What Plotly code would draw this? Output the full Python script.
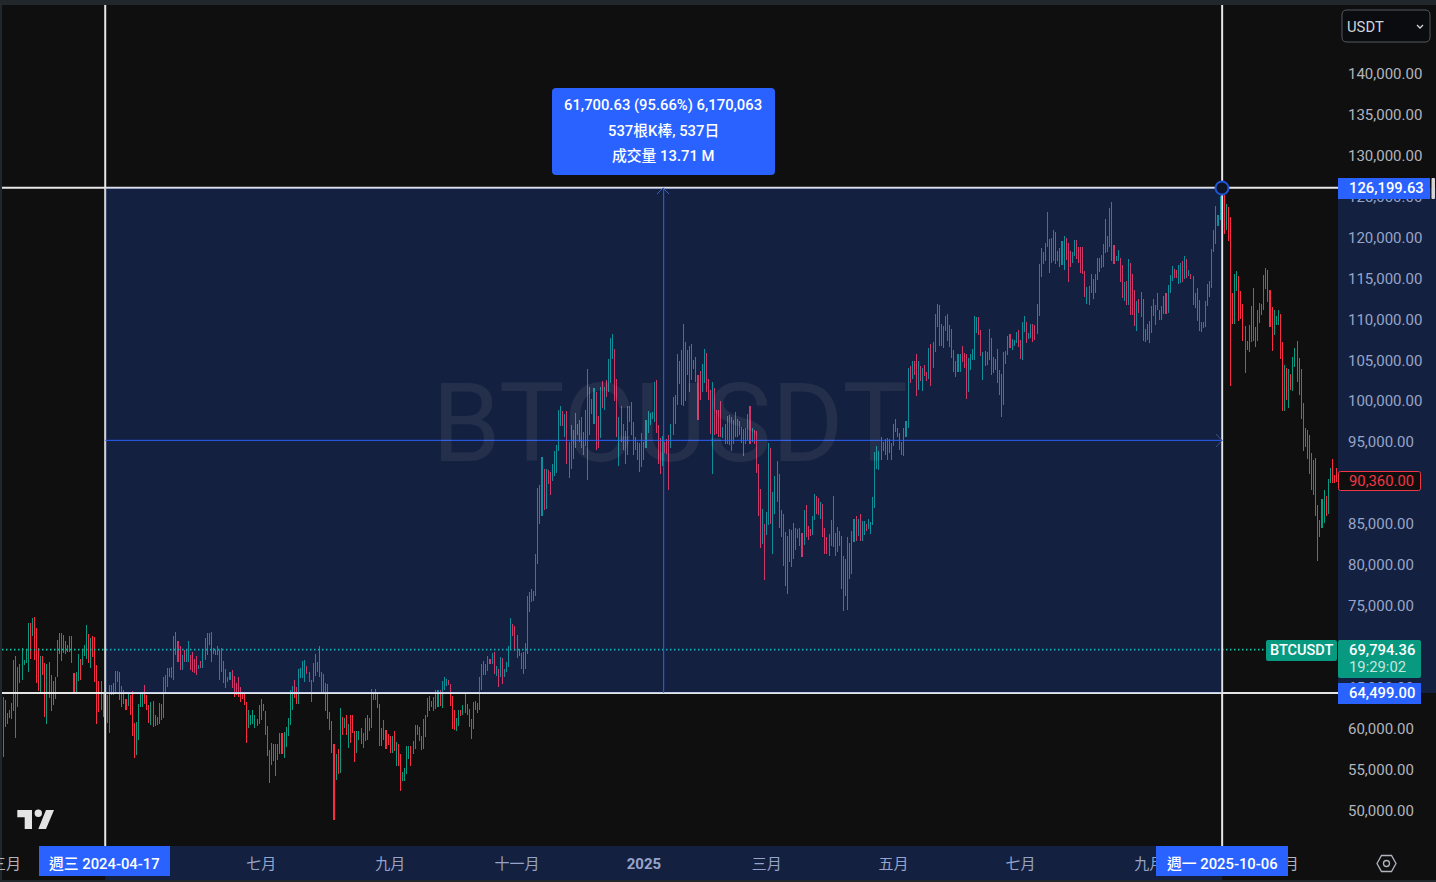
import pandas as pd
import plotly.graph_objects as go

# daily high / low of each bar in thousands of USDT, and 1 when the bar closed up
highs = [
    64.05, 63.64, 62.0, 62.4, 63.3, 68.5, 69.0, 67.7, 68.0, 70.0,
    68.5, 69.7, 73.0, 73.1, 73.6, 73.8, 72.4, 70.0, 69.0, 69.0,
    68.1, 68.0, 68.3, 66.7, 66.0, 66.5, 71.0, 71.8, 71.8, 71.6,
    70.8, 70.4, 71.4, 71.4, 66.9, 67.0, 69.3, 68.7, 69.7, 70.4,
    72.8, 71.7, 71.2, 71.4, 71.3, 67.9, 65.9, 65.9, 64.5, 64.5,
    64.2, 65.5, 65.5, 65.7, 67.2, 67.2, 67.1, 65.3, 64.8, 63.8,
    64.5, 64.2, 64.7, 60.8, 61.0, 63.2, 64.5, 64.5, 65.5, 64.2,
    63.0, 63.4, 63.5, 61.8, 61.6, 63.3, 63.1, 66.5, 66.7, 67.5,
    67.5, 67.7, 71.5, 72.0, 70.8, 70.2, 69.1, 69.7, 69.7, 70.8,
    69.1, 69.5, 68.7, 69.0, 67.9, 68.4, 69.8, 71.2, 71.8, 71.8,
    71.9, 70.0, 69.8, 70.2, 69.8, 70.0, 68.4, 67.4, 66.5, 67.0,
    67.3, 66.6, 65.7, 66.4, 65.2, 64.5, 64.5, 63.4, 62.4, 61.8,
    62.4, 61.8, 61.3, 63.0, 63.8, 63.2, 62.3, 60.5, 57.5, 58.4,
    58.3, 58.3, 58.3, 59.6, 59.6, 59.7, 60.4, 61.5, 64.9, 65.3,
    66.1, 65.2, 67.4, 67.5, 68.4, 68.5, 67.8, 67.1, 66.1, 68.2,
    69.3, 68.3, 70.2, 67.1, 66.8, 65.7, 65.6, 62.2, 61.1, 58.3,
    57.0, 57.7, 62.7, 61.6, 61.4, 61.8, 60.7, 61.8, 61.8, 59.9,
    59.9, 59.8, 60.2, 59.6, 61.4, 61.8, 61.4, 65.0, 64.4, 65.0,
    64.5, 63.2, 60.2, 61.2, 60.0, 59.5, 59.2, 59.3, 59.9, 58.5,
    58.3, 57.1, 54.9, 55.3, 58.0, 58.0, 58.0, 58.6, 60.6, 60.6,
    60.3, 59.3, 61.3, 61.8, 63.9, 64.1, 63.5, 64.0, 64.8, 64.8,
    64.9, 65.9, 66.4, 66.2, 66.1, 65.6, 64.1, 62.4, 61.5, 62.4,
    62.4, 63.0, 64.5, 63.2, 62.6, 61.3, 63.4, 63.5, 63.3, 66.5,
    68.0, 68.4, 68.0, 69.0, 68.7, 69.4, 69.5, 67.8, 67.4, 68.9,
    68.8, 67.4, 68.3, 70.2, 73.7, 72.9, 72.7, 71.6, 69.9, 69.4,
    69.5, 70.6, 76.3, 76.8, 77.2, 76.9, 81.5, 89.5, 89.9, 93.3,
    91.8, 91.8, 91.7, 91.5, 92.5, 94.0, 94.8, 99.1, 99.5, 98.9,
    98.6, 98.9, 95.1, 97.2, 96.6, 98.7, 97.4, 97.8, 98.2, 96.4,
    99.1, 104.0, 101.9, 100.4, 101.7, 101.3, 98.3, 101.9, 102.6, 101.9,
    102.7, 105.3, 107.8, 108.3, 106.5, 102.8, 98.2, 99.5, 97.4, 96.5,
    99.5, 99.5, 100.0, 97.6, 95.8, 95.2, 95.0, 96.2, 95.2, 97.8,
    98.9, 98.7, 98.8, 102.5, 102.7, 97.2, 95.6, 95.9, 95.2, 95.5,
    96.0, 97.3, 100.6, 100.9, 105.9, 105.0, 106.4, 109.5, 107.3, 106.4,
    106.9, 107.1, 105.2, 105.5, 103.3, 103.8, 104.7, 106.5, 106.0, 102.8,
    101.5, 102.5, 101.7, 99.1, 99.1, 100.1, 97.0, 97.3, 98.3, 98.4,
    98.2, 97.8, 98.8, 98.0, 97.7, 97.0, 96.7, 96.8, 98.6, 99.5,
    96.9, 96.6, 96.5, 92.5, 89.4, 87.0, 85.1, 86.6, 95.0, 94.4,
    89.0, 91.0, 92.8, 91.2, 86.8, 86.4, 84.1, 83.7, 84.5, 84.4,
    85.2, 84.7, 84.5, 84.7, 84.0, 86.9, 87.4, 84.9, 84.5, 86.1,
    88.8, 88.5, 88.3, 87.8, 87.6, 84.6, 83.6, 83.9, 85.6, 88.5,
    84.0, 84.8, 84.3, 83.7, 81.2, 80.8, 83.5, 82.8, 84.3, 85.8,
    86.1, 85.8, 86.4, 85.5, 85.5, 85.1, 85.7, 85.4, 88.4, 93.9,
    94.7, 94.1, 95.7, 95.2, 95.5, 95.6, 95.5, 95.0, 97.4, 97.9,
    96.9, 96.3, 95.2, 96.9, 97.7, 104.2, 104.4, 105.0, 105.0, 105.9,
    105.0, 104.4, 104.2, 104.5, 103.7, 106.6, 107.1, 107.4, 110.8, 112.0,
    111.9, 109.6, 109.3, 110.5, 110.8, 109.4, 108.9, 106.4, 105.0, 105.9,
    105.9, 106.9, 106.0, 105.9, 105.4, 105.9, 106.5, 110.5, 110.4, 110.4,
    108.8, 106.1, 106.3, 106.1, 108.9, 107.8, 105.5, 105.3, 106.5, 103.9,
    103.4, 106.1, 106.3, 108.1, 108.3, 107.7, 107.6, 108.6, 108.8, 107.6,
    109.8, 110.5, 109.8, 108.4, 109.6, 109.6, 109.4, 112.0, 116.9, 118.8,
    118.3, 119.5, 123.2, 119.9, 120.0, 121.0, 120.8, 118.5, 118.8, 119.7,
    120.3, 120.1, 119.4, 118.5, 118.4, 119.8, 119.8, 119.0, 118.9, 118.9,
    116.0, 114.1, 114.2, 115.7, 115.1, 115.7, 117.6, 117.6, 118.0, 119.3,
    122.4, 120.3, 123.7, 124.4, 119.2, 117.9, 118.6, 117.6, 116.8, 114.7,
    114.8, 117.5, 117.0, 115.7, 113.7, 112.4, 112.6, 113.5, 112.6, 108.9,
    109.6, 109.9, 111.8, 112.6, 111.9, 113.3, 111.3, 111.7, 113.0, 113.3,
    114.3, 115.5, 116.6, 116.3, 116.1, 116.8, 117.0, 117.2, 117.9, 117.5,
    116.1, 115.7, 115.4, 113.3, 113.9, 112.5, 109.8, 109.8, 112.4, 114.4,
    114.8, 118.7, 121.0, 124.0, 122.9, 125.2, 126.2, 125.3, 124.2, 123.8,
    122.6, 113.3, 115.7, 116.0, 115.4, 113.6, 112.0, 109.3, 107.5, 109.4,
    111.8, 114.0, 109.2, 111.3, 112.1, 112.0, 115.5, 116.4, 116.1, 113.7,
    111.6, 111.3, 110.5, 111.3, 110.8, 107.4, 104.5, 104.2, 104.1, 103.5,
    105.5, 106.6, 107.5, 105.4, 104.1, 99.9, 96.9, 96.6, 96.0, 93.8,
    93.0, 93.2, 87.4, 85.6, 88.2, 89.3, 88.6, 90.6, 92.0, 93.1, 91.1, 92.0,
]
lows = [
    56.72, 60.38, 60.7, 61.5, 61.3, 62.3, 59.0, 62.8, 65.7, 66.1,
    67.9, 68.1, 67.1, 68.6, 71.4, 68.5, 65.7, 64.7, 64.5, 66.7,
    61.6, 60.7, 63.9, 62.3, 63.0, 63.8, 66.4, 69.3, 68.4, 69.4,
    69.3, 69.5, 69.5, 68.1, 64.5, 64.5, 65.9, 66.1, 67.9, 69.0,
    68.7, 68.1, 67.5, 68.9, 65.8, 60.7, 62.2, 62.4, 61.6, 59.6,
    60.8, 59.6, 64.2, 64.2, 64.5, 65.8, 63.6, 62.8, 63.2, 62.4,
    62.9, 61.8, 59.2, 56.6, 56.9, 58.8, 62.8, 62.8, 63.2, 62.4,
    60.8, 60.6, 60.3, 60.5, 60.6, 60.7, 61.2, 61.4, 64.6, 65.2,
    66.5, 66.3, 66.1, 69.1, 68.3, 67.3, 67.3, 68.3, 68.3, 68.3,
    67.3, 67.1, 66.9, 66.7, 67.4, 67.5, 67.5, 68.5, 69.1, 70.4,
    68.3, 69.3, 69.1, 69.1, 66.1, 67.0, 65.7, 65.1, 65.8, 66.1,
    65.1, 64.0, 64.2, 64.0, 63.4, 63.8, 63.0, 58.4, 60.2, 60.6,
    60.7, 60.2, 60.5, 60.7, 61.2, 62.3, 59.4, 56.8, 53.5, 55.7,
    56.2, 54.3, 56.3, 57.1, 57.0, 56.6, 57.9, 59.2, 60.6, 62.4,
    63.9, 63.2, 63.1, 66.3, 66.3, 65.8, 66.8, 65.8, 63.4, 65.8,
    66.6, 67.0, 66.4, 64.6, 64.5, 62.3, 61.3, 60.0, 57.2, 49.0,
    53.9, 54.6, 54.7, 59.4, 60.2, 59.4, 57.8, 58.4, 59.6, 56.1,
    57.2, 58.8, 58.3, 57.8, 58.6, 58.8, 59.8, 60.2, 63.6, 63.7,
    62.7, 58.0, 58.0, 58.8, 57.6, 58.2, 57.2, 57.2, 57.4, 55.6,
    55.6, 52.5, 53.7, 53.7, 54.6, 56.4, 55.6, 57.1, 57.6, 59.4,
    58.6, 57.5, 57.6, 59.1, 61.6, 62.3, 62.8, 62.3, 62.6, 62.8,
    62.9, 62.7, 64.9, 65.4, 65.5, 62.9, 60.1, 60.0, 59.9, 60.5,
    61.7, 61.8, 62.1, 61.8, 60.4, 58.9, 60.1, 62.4, 62.1, 62.4,
    64.8, 66.7, 66.7, 67.2, 68.0, 68.0, 66.8, 66.6, 65.2, 66.5,
    65.6, 66.5, 67.0, 67.7, 69.8, 71.5, 69.6, 68.8, 69.0, 67.4,
    66.8, 67.4, 69.3, 74.4, 75.6, 75.7, 76.4, 80.2, 85.1, 86.1,
    86.8, 87.0, 90.0, 88.7, 90.4, 91.0, 91.4, 94.0, 97.1, 97.1,
    95.7, 92.5, 90.8, 91.8, 93.1, 94.4, 96.0, 95.2, 94.4, 93.6,
    94.6, 90.5, 96.0, 98.6, 97.4, 94.2, 94.4, 95.6, 99.3, 99.1,
    100.7, 101.3, 102.3, 105.3, 100.1, 95.8, 92.2, 95.2, 94.2, 92.5,
    93.6, 97.6, 96.0, 93.6, 94.2, 93.0, 91.5, 92.1, 93.0, 94.4,
    96.2, 97.2, 97.9, 97.6, 96.2, 92.5, 91.2, 92.2, 93.8, 93.7,
    89.3, 94.4, 96.0, 97.3, 99.7, 102.2, 99.7, 99.5, 100.1, 103.3,
    101.3, 102.7, 104.0, 102.5, 97.8, 100.3, 101.3, 102.3, 101.3, 100.3,
    96.1, 91.2, 96.0, 96.1, 95.7, 95.8, 95.6, 94.9, 94.9, 94.8,
    94.1, 94.9, 95.8, 95.7, 96.0, 95.0, 93.4, 94.9, 95.4, 94.9,
    95.1, 94.9, 91.4, 86.1, 82.2, 82.7, 78.3, 83.8, 85.0, 85.1,
    81.5, 86.4, 87.8, 84.6, 83.5, 80.0, 77.5, 76.6, 80.5, 79.9,
    80.9, 82.0, 83.4, 82.4, 81.1, 82.6, 83.6, 83.2, 83.7, 83.8,
    85.6, 86.4, 86.2, 85.8, 83.5, 81.5, 81.5, 81.2, 82.4, 82.3,
    81.2, 81.7, 82.4, 77.2, 74.5, 76.3, 74.6, 78.4, 79.0, 82.9,
    83.1, 83.7, 83.1, 83.1, 83.8, 84.3, 84.5, 83.9, 85.0, 87.1,
    91.9, 91.7, 93.0, 94.0, 93.6, 92.9, 93.8, 93.0, 94.6, 96.4,
    95.8, 94.2, 93.6, 93.4, 95.8, 96.8, 102.4, 102.8, 103.3, 100.8,
    101.5, 102.6, 101.4, 103.2, 102.6, 102.9, 102.0, 104.2, 106.1, 109.2,
    106.9, 106.9, 106.6, 108.7, 107.5, 106.8, 105.4, 103.7, 103.1, 103.7,
    103.7, 104.9, 104.2, 100.4, 101.2, 103.9, 105.1, 105.2, 108.4, 108.2,
    105.6, 102.7, 104.4, 104.6, 105.1, 103.3, 103.6, 103.9, 102.3, 100.9,
    98.2, 99.7, 104.7, 105.8, 106.6, 106.4, 106.9, 107.2, 106.7, 105.3,
    105.2, 108.6, 107.2, 107.7, 107.8, 107.4, 107.6, 108.3, 110.5, 115.3,
    116.9, 117.2, 119.0, 115.8, 117.0, 117.3, 116.9, 117.2, 116.5, 116.8,
    116.1, 117.4, 114.7, 116.5, 117.0, 117.9, 117.5, 117.0, 115.8, 115.7,
    112.8, 112.0, 111.9, 113.3, 112.6, 113.3, 114.9, 115.9, 116.4, 116.5,
    118.2, 118.3, 118.9, 117.2, 116.9, 117.2, 117.2, 114.7, 112.7, 112.4,
    111.9, 111.9, 110.7, 110.7, 109.3, 108.7, 110.9, 110.4, 107.5, 107.4,
    107.6, 107.2, 108.4, 110.5, 109.4, 111.3, 110.0, 110.0, 110.8, 110.8,
    110.9, 113.4, 114.8, 115.2, 115.2, 114.4, 114.6, 114.7, 115.1, 115.2,
    115.4, 115.1, 111.9, 111.5, 109.9, 108.7, 108.6, 109.1, 109.2, 111.7,
    112.8, 113.9, 118.3, 119.3, 121.5, 122.2, 123.1, 120.5, 121.0, 119.7,
    102.0, 109.6, 109.6, 113.6, 109.9, 110.2, 107.5, 103.6, 106.4, 106.1,
    107.4, 107.5, 106.7, 107.5, 109.7, 110.6, 111.3, 113.8, 112.2, 109.2,
    106.3, 108.2, 109.4, 109.4, 105.3, 98.9, 98.9, 100.3, 99.3, 101.5,
    101.4, 104.3, 102.5, 100.9, 98.0, 94.0, 94.5, 93.1, 91.2, 89.3,
    88.7, 86.1, 80.6, 83.5, 84.6, 85.2, 86.1, 86.4, 90.1, 90.1, 90.1, 90.3,
]
ups = [
    1, 0, 1, 0, 1, 1, 0, 1, 1, 1,
    1, 1, 1, 0, 1, 0, 0, 0, 1, 0,
    0, 1, 0, 0, 0, 1, 1, 1, 1, 1,
    1, 0, 1, 0, 0, 1, 1, 0, 1, 1,
    1, 0, 1, 0, 0, 0, 0, 0, 1, 0,
    1, 1, 1, 1, 1, 1, 0, 1, 0, 0,
    1, 0, 0, 0, 1, 1, 1, 1, 0, 0,
    0, 1, 0, 1, 1, 1, 0, 1, 1, 1,
    0, 0, 1, 0, 0, 0, 1, 0, 1, 1,
    0, 0, 0, 0, 1, 0, 1, 1, 1, 1,
    0, 1, 0, 0, 0, 1, 0, 0, 1, 1,
    0, 0, 0, 0, 0, 0, 0, 0, 1, 1,
    1, 1, 0, 1, 1, 0, 0, 0, 0, 1,
    0, 1, 1, 0, 0, 1, 1, 1, 1, 1,
    0, 0, 1, 1, 1, 1, 0, 0, 1, 1,
    0, 1, 0, 0, 0, 1, 0, 0, 0, 0,
    1, 0, 1, 0, 1, 0, 1, 0, 0, 0,
    1, 1, 0, 1, 0, 1, 0, 1, 1, 1,
    0, 0, 0, 1, 0, 0, 0, 1, 0, 1,
    0, 0, 1, 1, 1, 1, 0, 1, 1, 0,
    0, 0, 1, 1, 1, 1, 1, 1, 0, 1,
    0, 1, 1, 1, 0, 0, 0, 0, 1, 1,
    0, 1, 0, 0, 0, 0, 1, 1, 0, 1,
    1, 1, 0, 1, 0, 1, 0, 1, 0, 1,
    0, 1, 1, 1, 1, 0, 0, 0, 0, 0,
    0, 1, 1, 1, 1, 1, 1, 1, 0, 1,
    0, 1, 0, 0, 1, 1, 1, 1, 1, 0,
    1, 0, 0, 1, 0, 1, 0, 1, 0, 1,
    1, 0, 1, 1, 1, 0, 0, 1, 0, 1,
    0, 1, 1, 1, 0, 0, 1, 0, 1, 0,
    1, 1, 0, 0, 1, 0, 0, 1, 1, 1,
    1, 1, 1, 1, 0, 0, 0, 1, 0, 0,
    0, 1, 1, 0, 1, 1, 0, 1, 1, 0,
    1, 1, 0, 0, 0, 0, 1, 1, 0, 0,
    0, 1, 0, 0, 0, 0, 1, 1, 1, 0,
    1, 0, 1, 1, 0, 0, 0, 1, 1, 0,
    1, 0, 0, 0, 0, 1, 0, 1, 1, 0,
    1, 1, 0, 0, 0, 0, 0, 1, 1, 0,
    1, 0, 1, 1, 0, 1, 0, 0, 0, 1,
    1, 0, 0, 1, 0, 0, 0, 1, 1, 0,
    1, 1, 0, 0, 1, 0, 1, 0, 1, 1,
    0, 1, 0, 1, 1, 0, 1, 1, 1, 1,
    1, 1, 1, 0, 0, 1, 0, 0, 1, 1,
    0, 0, 1, 1, 1, 1, 0, 1, 0, 0,
    1, 0, 1, 0, 0, 1, 0, 1, 1, 1,
    0, 1, 1, 1, 0, 1, 0, 0, 1, 1,
    1, 0, 0, 0, 1, 1, 1, 1, 1, 0,
    0, 1, 0, 1, 1, 0, 1, 0, 0, 0,
    0, 1, 1, 1, 0, 1, 1, 1, 0, 0,
    1, 1, 0, 1, 1, 0, 0, 1, 1, 1,
    0, 1, 1, 0, 1, 1, 0, 0, 0, 1,
    1, 0, 0, 0, 1, 1, 0, 0, 0, 0,
    0, 1, 1, 1, 0, 1, 1, 0, 1, 1,
    0, 1, 1, 0, 0, 1, 1, 0, 0, 1,
    0, 1, 0, 0, 0, 1, 0, 1, 0, 1,
    0, 1, 1, 1, 0, 0, 0, 1, 1, 0,
    1, 1, 1, 0, 0, 1, 1, 0, 1, 0,
    1, 0, 0, 0, 1, 0, 1, 0, 1, 1,
    0, 1, 1, 1, 1, 1, 1, 0, 1, 0,
    0, 0, 1, 1, 0, 0, 0, 0, 1, 1,
    1, 0, 0, 1, 1, 1, 1, 0, 0, 0,
    0, 1, 1, 1, 0, 0, 1, 0, 1, 0,
    1, 1, 0, 0, 0, 0, 1, 0, 0, 1,
    0, 0, 0, 0, 1, 1, 0, 1, 1, 0, 0, 0,
]

first_day = "2024-02-28"
range_start = "2024-02-27 09:00"
range_end = "2025-11-30 16:48"
range_low, range_high = 45810, 148510

# 70,000 and 90,000 sit fully behind the price labels in the reference
price_ticks = [50000, 55000, 60000, 65000, 75000, 80000, 85000, 95000, 100000, 105000, 110000,
               115000, 120000, 125000, 130000, 135000, 140000]
date_ticks = ["2024-07-01", "2024-09-01", "2024-11-01", "2025-01-01",
              "2025-03-01", "2025-05-01", "2025-07-01", "2025-09-01", "2025-11-01"]
date_labels = ["七月", "九月", "十一月", "<b>2025</b>", "三月", "五月", "七月", "九月", "十一月"]

measure_start = "2024-04-17"
measure_end = "2025-10-06"
measure_mid = "2025-01-10 12:00"
measure_high = 126199.63
measure_low = 64499.00
last_price = 69794.36

BG = "#0f0f0f"
BLUE = "#2962ff"
GREEN = "#089981"
RED = "#f92c44"
GREY = "#b2b5be"
FILL = "rgba(41,98,255,0.2)"
FONT = "Roboto, 'Noto Sans CJK TC', sans-serif"

# plot area in page pixels
L, R, T, B = 2, 1338, 5, 846


def xp(px):
    return (px - L) / (R - L)


def yp(py):
    return 1 - (py - T) / (B - T)


dates = pd.date_range(first_day, periods=len(highs))
spans = [(h - l) * 1000 for h, l in zip(highs, lows)]
bases = [l * 1000 for l in lows]
colors = [GREEN if u else RED for u in ups]

fig = go.Figure()
# a very thin bar gets expanded to exactly one whole pixel by plotly
fig.add_trace(go.Bar(x=dates, y=spans, base=bases, width=2000000,
                     marker=dict(color=colors, line=dict(width=0)), hoverinfo="skip"))

shapes = []


def data_line(x0, y0, x1, y1, color, width, dash="solid"):
    shapes.append(dict(type="line", xref="x", yref="y", x0=x0, y0=y0, x1=x1, y1=y1,
                       line=dict(color=color, width=width, dash=dash)))


def px_rect(x0, y0, x1, y1, fill, line=None):
    shapes.append(dict(type="rect", xref="paper", yref="paper", x0=xp(x0), x1=xp(x1), y0=yp(y0), y1=yp(y1),
                       fillcolor=fill, line=dict(width=1 if line else 0, color=line or fill)))


def px_path(points, color=None, width=1, fill=None, close=False):
    d = "M " + " L ".join(f"{xp(x):.5f},{yp(y):.5f}" for x, y in points) + (" Z" if close else "")
    shapes.append(dict(type="path", xref="paper", yref="paper", path=d, fillcolor=fill or "rgba(0,0,0,0)",
                       line=dict(color=color or "rgba(0,0,0,0)", width=width if color else 0)))


def round_rect(x0, y0, x1, y1, r, fill, line=None):
    d = (f"M {xp(x0 + r):.5f},{yp(y0):.5f} L {xp(x1 - r):.5f},{yp(y0):.5f} "
         f"Q {xp(x1):.5f},{yp(y0):.5f} {xp(x1):.5f},{yp(y0 + r):.5f} L {xp(x1):.5f},{yp(y1 - r):.5f} "
         f"Q {xp(x1):.5f},{yp(y1):.5f} {xp(x1 - r):.5f},{yp(y1):.5f} L {xp(x0 + r):.5f},{yp(y1):.5f} "
         f"Q {xp(x0):.5f},{yp(y1):.5f} {xp(x0):.5f},{yp(y1 - r):.5f} L {xp(x0):.5f},{yp(y0 + r):.5f} "
         f"Q {xp(x0):.5f},{yp(y0):.5f} {xp(x0 + r):.5f},{yp(y0):.5f} Z")
    shapes.append(dict(type="path", xref="paper", yref="paper", path=d, fillcolor=fill,
                       line=dict(color=line or fill, width=1 if line else 0)))


# last price line and the crosshair pair, all under the measure fill
shapes.append(dict(type="line", xref="paper", yref="y", x0=0, x1=xp(1266), y0=last_price, y1=last_price,
                   line=dict(color="#12c4a8", width=1.6, dash="1.5px,2.5px")))
for day in (measure_start, measure_end):
    shapes.append(dict(type="line", xref="x", yref="paper", x0=day, x1=day, y0=0, y1=1,
                       line=dict(color="#e6e6e6", width=2)))
for price in (measure_high, measure_low):
    shapes.append(dict(type="line", xref="paper", yref="y", x0=0, x1=1, y0=price, y1=price,
                       line=dict(color="#e6e6e6", width=2)))

# measure fill on the pane and on both axes
shapes.append(dict(type="rect", xref="x", yref="y", x0=measure_start, x1=measure_end, y0=measure_low, y1=measure_high,
                   fillcolor=FILL, line=dict(width=0)))
shapes.append(dict(type="rect", xref="paper", yref="y", x0=1, x1=xp(1436), y0=measure_low, y1=measure_high,
                   fillcolor=FILL, line=dict(width=0)))
shapes.append(dict(type="rect", xref="x", yref="paper", x0=measure_start, x1=measure_end, y0=yp(880), y1=0,
                   fillcolor=FILL, line=dict(width=0)))

# measure arrows
data_line(measure_mid, measure_low, measure_mid, measure_high, BLUE, 1)
data_line(measure_start, (measure_high + measure_low) / 2, measure_end, (measure_high + measure_low) / 2, BLUE, 1)
px_path([(657, 194), (663, 188), (669, 194)], color="#3a62c8", width=1)
px_path([(1216, 434), (1222, 440.5), (1216, 447)], color="#3f4f85", width=1)

# point marker on the top right corner
shapes.append(dict(type="circle", xref="paper", yref="paper", x0=xp(1215.5), x1=xp(1228.5), y0=yp(181.5), y1=yp(194.5),
                   fillcolor="#0f1424", line=dict(color="#1d55d6", width=2)))

# tooltip
round_rect(552, 88, 775, 175, 4, BLUE)

# price and time label boxes
px_rect(39, 846, 170, 876, BLUE)
px_rect(1156, 846, 1288, 876, BLUE)
px_rect(1338, 178, 1430, 199, BLUE)
px_rect(1338, 683, 1421, 704, BLUE)
round_rect(1338.5, 471.5, 1420.5, 490.5, 2, BG, line="#f23645")
round_rect(1338, 640, 1421, 678, 2, GREEN)
round_rect(1266, 640, 1337, 661, 2, GREEN)

# logo
px_path([(17.3, 810), (32, 810), (32, 829), (24.7, 829), (24.7, 817.3), (17.3, 817.3)], fill="#e4e4e4", close=True)
shapes.append(dict(type="circle", xref="paper", yref="paper", x0=xp(34.6), x1=xp(42), y0=yp(809.6), y1=yp(817),
                   fillcolor="#e4e4e4", line=dict(width=0)))
px_path([(46, 810), (54, 810), (46, 829), (38.3, 829)], fill="#e4e4e4", close=True)

# currency box, scrollbar thumb, settings icon
round_rect(1342, 10, 1430, 42, 5, "#0b0c0f", line="#55585f")
px_path([(1417, 25), (1420, 28), (1423, 25)], color="#d1d4dc", width=1.3)
round_rect(1431.5, 178, 1435, 199, 1, "#d6d6d6")
px_path([(1377, 863.5), (1381.5, 855.5), (1391.5, 855.5), (1396, 863.5), (1391.5, 871.5), (1381.5, 871.5)],
        color=GREY, width=1.3, close=True)
shapes.append(dict(type="circle", xref="paper", yref="paper", x0=xp(1383.5), x1=xp(1389.5), y0=yp(860.5), y1=yp(866.5),
                   line=dict(color=GREY, width=1.3)))

# window frame
px_rect(0, 0, 1436, 5, "#22272b")
px_rect(0, 0, 2, 882, "#22272b")
px_rect(0, 880, 1436, 882, "#22272b")

annotations = []


def label(text, x, y, color="#ffffff", size=14.8, anchor="center", weight=500):
    annotations.append(dict(text=text, xref="paper", yref="paper", x=xp(x), y=yp(y),
                            xanchor=anchor, yanchor="middle", showarrow=False, borderpad=0,
                            font=dict(family=FONT, size=size, color=color, weight=weight)))


label("BTCUSDT", 670, 423, color="rgba(255,255,255,0.07)", size=110, weight=400)
label("61,700.63 (95.66%) 6,170,063", 663, 105.5)
label("537根K棒, 537日", 663, 130.5)
label("成交量 13.71 M", 663, 155.5)
label("週三 2024-04-17", 104.5, 863.5)
label("週一 2025-10-06", 1222, 863.5)
label("126,199.63", 1348, 188, anchor="left")
label("64,499.00", 1348, 693, anchor="left")
label("90,360.00", 1348, 481, color="#f23645", anchor="left", weight=400)
label("69,794.36", 1348, 650, anchor="left")
label("19:29:02", 1348, 666.5, color="#c4e6df", anchor="left", weight=400)
label("BTCUSDT", 1301.5, 650.5, size=14.5)
label("USDT", 1346, 27, color="#d1d4dc", anchor="left", weight=400)
# this month runs off the left edge of the page
label("三月", 6, 864, color=GREY, size=15, weight=400)

fig.update_layout(
    width=1436, height=882,
    margin=dict(l=L, r=1436 - R, t=T, b=882 - B),
    paper_bgcolor=BG, plot_bgcolor=BG,
    font=dict(family=FONT, size=14, color=GREY),
    showlegend=False, hovermode=False, dragmode=False, bargap=0,
    shapes=shapes, annotations=annotations,
    xaxis=dict(type="date", range=[range_start, range_end], showgrid=False, zeroline=False, showline=False,
               tickmode="array", tickvals=date_ticks, ticktext=date_labels, tickangle=0,
               ticks="outside", ticklen=4, tickcolor="rgba(0,0,0,0)",
               tickfont=dict(size=15, color=GREY)),
    yaxis=dict(range=[range_low, range_high], side="right", showgrid=False, zeroline=False, showline=False,
               tickmode="array", tickvals=price_ticks, tickformat=",.2f", ticklabelshift=-1,
               ticks="outside", ticklen=6, tickcolor="rgba(0,0,0,0)", tickfont=dict(size=15, color=GREY)),
)

fig.write_html("out.html", config={"displayModeBar": False},
               post_script="document.body.style.margin='0';document.body.style.overflow='hidden';")
